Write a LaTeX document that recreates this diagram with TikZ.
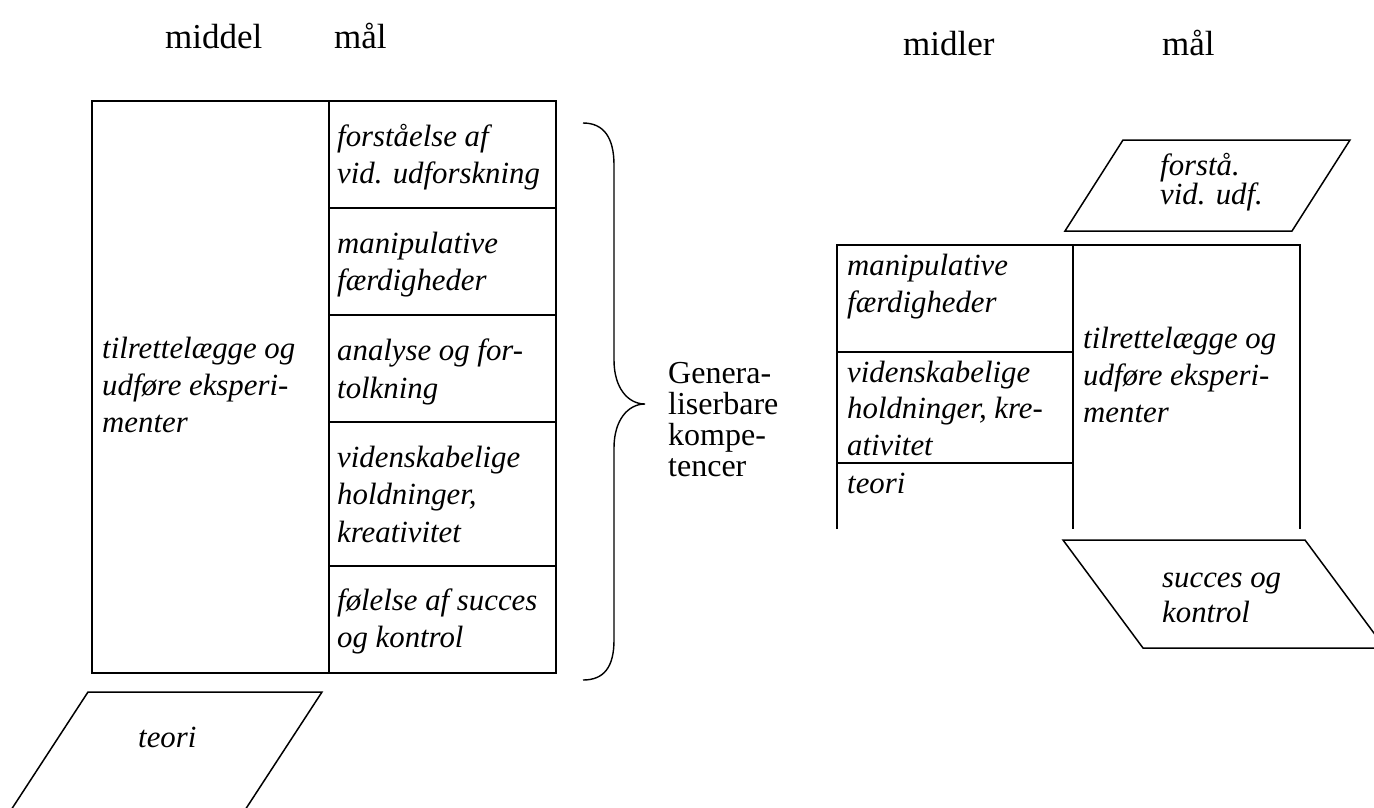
\documentclass[tikz,border=0pt]{standalone}
\usepackage{fontspec}
\setmainfont{Liberation Serif}
% a stack of lines whose baseline is the first line's baseline
\newcommand\cellstack[2]{\vtop{\baselineskip=#1\lineskiplimit=-100pt\lineskip=0pt\relax #2}}
\newcommand\tline[1]{\hbox{#1}}
\begin{document}
\begin{tikzpicture}[x=1pt,y=-1pt,
  frame/.style={draw=black,line width=2pt},
  slant/.style={draw=black,line width=1.5pt,line join=miter},
  brace/.style={draw=black,line width=1.4pt},
  lbl/.style={inner sep=0pt,anchor=base west,font=\fontsize{30.8}{37}\selectfont\itshape},
  head/.style={inner sep=0pt,anchor=base west,font=\fontsize{35}{40}\selectfont},
  note/.style={inner sep=0pt,anchor=base west,font=\fontsize{32}{31}\selectfont}]
\useasboundingbox (0,0) rectangle (1374,807);

% headings
\node[head] (hmid) at (165,48) {middel};
\node[head] (hmal) at (334,48) {mål};
\node[head] (hmidr) at (903,55) {midler};
\node[head] (hmalr) at (1162,55) {mål};

% left table
\draw[frame] (92,101) rectangle (556,673);
\draw[frame] (329,101) -- (329,673);
\foreach \yy in {208,315,422,566} \draw[frame] (329,\yy) -- (556,\yy);

\node[lbl] (lexp) at (102,358) {\cellstack{37pt}{\tline{tilrettelægge og}\tline{udføre eksperi-}\tline{menter}}};
\node[lbl] (lfor) at (337,146) {\cellstack{37pt}{\tline{forståelse af}\tline{vid. udforskning}}};
\node[lbl] (lman) at (337,253) {\cellstack{37pt}{\tline{manipulative}\tline{færdigheder}}};
\node[lbl] (lana) at (337,360) {\cellstack{38pt}{\tline{analyse og for-}\tline{tolkning}}};
\node[lbl] (lvid) at (337,467) {\cellstack{37.5pt}{\tline{videnskabelige}\tline{holdninger,}\tline{kreativitet}}};
\node[lbl] (lfol) at (337,610) {\cellstack{37pt}{\tline{følelse af succes}\tline{og kontrol}}};

% brace and its label
\draw[brace] (583,123) .. controls (604,123) and (614,138) .. (614,165)
  -- (614,360) .. controls (614,388) and (628,404) .. (645,404)
  .. controls (628,404) and (614,420) .. (614,448)
  -- (614,640) .. controls (614,667) and (604,680) .. (583,680);
\node[note] (gen) at (668,383) {\cellstack{31pt}{\tline{Genera-}\tline{liserbare}\tline{kompe-}\tline{tencer}}};

% right table
\draw[frame] (837,529) -- (837,245) -- (1300,245) -- (1300,529);
\draw[frame] (1073,245) -- (1073,529);
\draw[frame] (837,352) -- (1073,352);
\draw[frame] (837,463) -- (1073,463);

\node[lbl] (rman) at (847,275) {\cellstack{37pt}{\tline{manipulative}\tline{færdigheder}}};
\node[lbl] (rvid) at (847,382) {\cellstack{36.5pt}{\tline{videnskabelige}\tline{holdninger, kre-}\tline{ativitet}}};
\node[lbl] (rteo) at (847,493) {teori};
\node[lbl] (rexp) at (1083,348) {\cellstack{37pt}{\tline{tilrettelægge og}\tline{udføre eksperi-}\tline{menter}}};

% parallelograms, cut by the page edge
\begin{scope}
  \clip (0,0) rectangle (1374,807);
  \draw[slant] (88,692) -- (322,692) -- (232,830) -- (-2,830) -- cycle;
  \draw[slant] (1123,140) -- (1350,140) -- (1292,231) -- (1065,231) -- cycle;
  \draw[slant] (1063,540) -- (1305,540) -- (1385,648) -- (1143,648) -- cycle;
\end{scope}
\node[lbl] (pteo) at (138,747) {teori};
\node[lbl] (pfor) at (1160,175) {\cellstack{29.5pt}{\tline{forstå.}\tline{vid. udf.}}};
\node[lbl] (psuc) at (1162,587) {\cellstack{35pt}{\tline{succes og}\tline{kontrol}}};
\end{tikzpicture}
\end{document}
